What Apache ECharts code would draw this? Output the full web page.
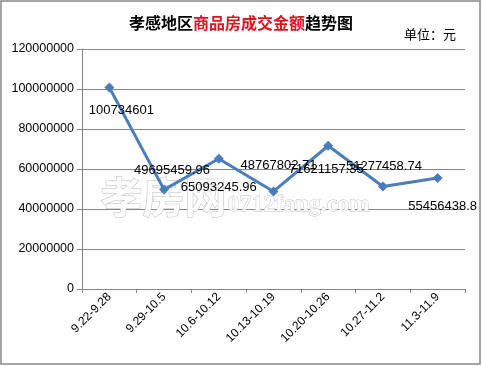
<!DOCTYPE html>
<html><head><meta charset="utf-8">
<script src="https://cdn.jsdelivr.net/npm/echarts@6/dist/echarts.min.js"></script>
<style>html,body{margin:0;padding:0;background:#fff}#c{width:482px;height:366px}</style>
</head><body><div id="c"></div>
<script>
const categories = ['9.22-9.28','9.29-10.5','10.6-10.12','10.13-10.19','10.20-10.26','10.27-11.2','11.3-11.9'];
const amounts = [100734601, 49695459.96, 65093245.96, 48767802.71, 71621157.35, 51277458.74, 55456438.8];
const amountLabels = ['100734601','49695459.96','65093245.96','48767802.71','71621157.35','51277458.74','55456438.8'];
const yMin = 0, yMax = 120000000, yStep = 20000000;
// label offsets (style only)
const labelOffsets = [[12,23],[8,-19],[0,29],[5,-26],[-2,24],[1,-20],[5,28]];

const chart = echarts.init(document.getElementById('c'), null, {renderer:'canvas'});
const font = '"Liberation Sans", Arial, sans-serif';
const cjk = '"Noto Sans CJK SC", sans-serif';
chart.setOption({
  backgroundColor:'#fff',
  animation:false,
  title:{
    left:'center', top:10,
    text:'{a|孝感地区}{b|商品房成交金额}{a|趋势图}',
    textStyle:{rich:{
      a:{fontFamily:cjk,fontSize:16,fontWeight:'bold',color:'#000'},
      b:{fontFamily:cjk,fontSize:16,fontWeight:'bold',color:'#e0141c'}
    }}
  },
  graphic:[
    {type:'rect',shape:{x:1,y:1,width:479,height:363},style:{fill:'none',stroke:'#868686',lineWidth:1.5},z:-1},
    {type:'text',left:404,top:28,style:{text:'单位：元',font:'13px '+cjk,fill:'#000'}},
    {type:'text',left:100,top:176,z:1,style:{text:'孝房网',font:'bold 42px '+cjk,fill:'rgba(255,255,255,0.9)',stroke:'#bdbdbd',lineWidth:1}},
    {type:'text',left:227,top:192,z:1,style:{text:'0712fang.com',font:'bold 24px "Liberation Serif", serif',fill:'rgba(255,255,255,0.9)',stroke:'#bdbdbd',lineWidth:0.8}}
  ],
  grid:{left:82,right:17,top:49,bottom:77},
  xAxis:{
    type:'category', data:categories, boundaryGap:true,
    axisLine:{lineStyle:{color:'#868686',width:1}},
    axisTick:{show:true,length:4,lineStyle:{color:'#868686'}},
    axisLabel:{rotate:45,fontFamily:font,fontSize:12,color:'#000',margin:6}
  },
  yAxis:{
    type:'value', min:yMin, max:yMax, interval:yStep,
    axisLine:{show:true,lineStyle:{color:'#868686'}},
    axisTick:{show:true,length:5,inside:false,lineStyle:{color:'#868686'}},
    splitLine:{lineStyle:{color:'#868686',width:1}},
    axisLabel:{fontFamily:font,fontSize:12.5,color:'#000',margin:8,formatter:v=>String(v)}
  },
  series:[{
    type:'line', data:amounts.map((v,i)=>({
      value:v,
      label:{show:true,position:'inside',offset:labelOffsets[i],formatter:amountLabels[i]}
    })),
    lineStyle:{color:'#4a7ebb',width:3},
    itemStyle:{color:'#4a7ebb'},
    symbol:'diamond', symbolSize:10, z:3,
    label:{fontFamily:font,fontSize:13,color:'#000'}
  }]
});
</script></body></html>
